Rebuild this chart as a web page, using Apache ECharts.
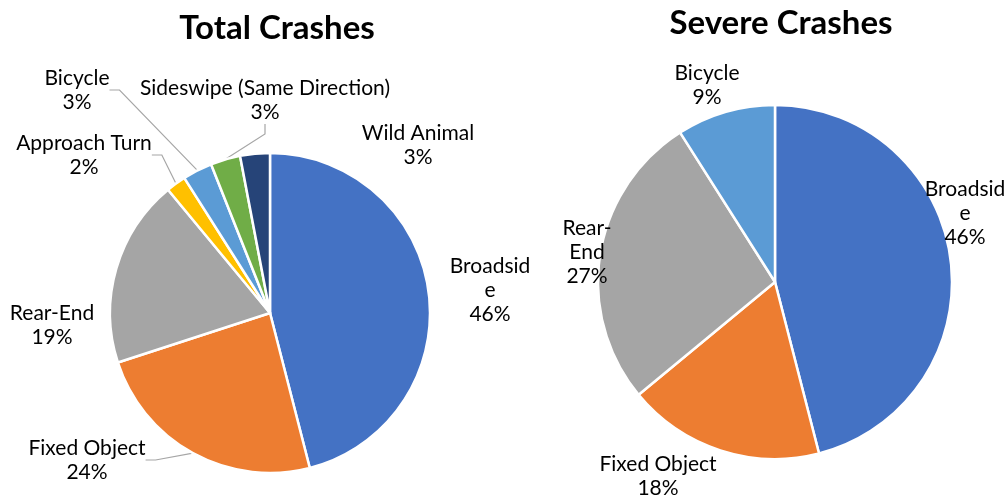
<!DOCTYPE html>
<html><head><meta charset="utf-8">
<script src="https://cdn.jsdelivr.net/npm/echarts@6/dist/echarts.min.js"></script>
<style>html,body{margin:0;padding:0;background:#fff}#c{width:1006px;height:499px}</style>
</head><body><div id="c"></div>
<script>
const totalCategories = ['Broadside','Fixed Object','Rear-End','Approach Turn','Bicycle','Sideswipe (Same Direction)','Wild Animal'];
const totalValues = [46, 24, 19, 2, 3, 3, 3];
const totalLabelText = ['Broadsid\ne','Fixed Object','Rear-End','Approach Turn','Bicycle','Sideswipe (Same Direction)','Wild Animal'];
const totalColors = ['#4472C4','#ED7D31','#A5A5A5','#FFC000','#5B9BD5','#70AD47','#264478'];
const severeCategories = ['Broadside','Fixed Object','Rear-End','Bicycle'];
const severeValues = [46, 18, 27, 9];
const severeLabelText = ['Broadsid\ne','Fixed Object','Rear-\nEnd','Bicycle'];
const severeColors = ['#4472C4','#ED7D31','#A5A5A5','#5B9BD5'];

const totalWithLine = ['Fixed Object','Approach Turn','Bicycle','Sideswipe (Same Direction)'];
const totalLabelPos = [[490,290],[87,460],[52,325],[84,155],[77,90],[265,100],[418,145]];
const severeLabelPos = [[965,213],[658,476],[587,252],[707,85]];

const chart = echarts.init(document.getElementById('c'));
const font = 'Lato, "Open Sans", sans-serif';

function build(cats, vals, texts, colors, withLine) {
  return cats.map((n, i) => ({
    name: n, value: vals[i], text: texts[i],
    itemStyle: {color: colors[i]},
    labelLine: {show: withLine.indexOf(n) >= 0}
  }));
}
function fmt(p) { return p.data.text + '\n' + Math.round(p.percent) + '%'; }

const common = {
  type: 'pie', startAngle: 90, clockwise: true,
  itemStyle: {borderColor: '#fff', borderWidth: 2.5},
  label: {show: true, position: 'outside', formatter: fmt, color: '#000', fontFamily: font, fontSize: 21, lineHeight: 24, align: 'center', overflow: 'none', alignTo: 'none', bleedMargin: 0},
  labelLine: {lineStyle: {color: '#A6A6A6', width: 1.2}, length: 10, length2: 10},
  emphasis: {disabled: true}, animation: false
};

chart.setOption({
  animation: false,
  title: [
    {text: 'Total Crashes', left: 272, top: 7, textAlign: 'center', textStyle: {fontFamily: font, fontWeight: 'bold', fontSize: 33, color: '#000'}},
    {text: 'Severe Crashes', left: 776, top: 2, textAlign: 'center', textStyle: {fontFamily: font, fontWeight: 'bold', fontSize: 33, color: '#000'}}
  ],
  series: [
    Object.assign({}, common, {
      center: [270, 313], radius: 160,
      data: build(totalCategories, totalValues, totalLabelText, totalColors, totalWithLine),
      labelLayout: p => ({x: totalLabelPos[p.dataIndex][0], y: totalLabelPos[p.dataIndex][1], align: 'center', verticalAlign: 'middle'})
    }),
    Object.assign({}, common, {
      center: [775, 282], radius: 177,
      data: build(severeCategories, severeValues, severeLabelText, severeColors, []),
      labelLayout: p => ({x: severeLabelPos[p.dataIndex][0], y: severeLabelPos[p.dataIndex][1], align: 'center', verticalAlign: 'middle'})
    })
  ]
});
</script></body></html>
